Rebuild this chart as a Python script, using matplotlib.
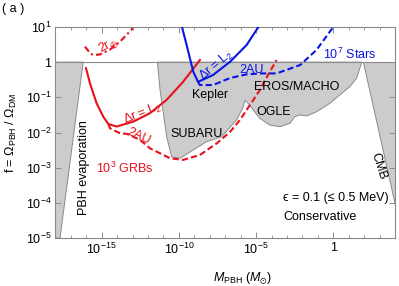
import numpy as np
import matplotlib
matplotlib.use("Agg")
import matplotlib.pyplot as plt

plt.rcParams['font.family'] = ['Liberation Sans', 'DejaVu Sans']
plt.rcParams['mathtext.fontset'] = 'custom'
plt.rcParams['mathtext.rm'] = 'Liberation Sans'
plt.rcParams['mathtext.it'] = 'Liberation Sans:italic'
plt.rcParams['mathtext.bf'] = 'Liberation Sans:bold'
plt.rcParams['mathtext.fallback'] = 'stixsans'

# ---- data (log10 M, log10 f) ----
grb_L2_logM = [-16.02, -15.76, -15.33, -14.90, -14.57, -14.03, -12.95, -11.87, -10.79, -9.72, -8.64]
grb_L2_logf = [-0.17, -0.60, -1.17, -1.55, -1.76, -1.83, -1.69, -1.45, -1.07, -0.555, 0.06]

grb_2AU_logM = [-14.57, -14.46, -13.82, -13.36, -12.52, -11.87, -10.58, -9.74, -8.64, -7.55, -6.68, -6.04, -5.40, -4.75, -4.23, -3.67]
grb_2AU_logf = [-1.76, -1.88, -2.02, -2.04, -2.21, -2.45, -2.73, -2.78, -2.64, -2.31, -1.98, -1.64, -1.22, -0.79, -0.365, 0.06]

grb_2re_logM = [-16.08, -15.76, -15.55, -15.11, -14.46, -13.82, -12.97]
grb_2re_logf = [0.44, 0.26, 0.20, 0.22, 0.36, 0.58, 0.97]

kep_L2_logM = [-9.80, -9.50, -9.07, -8.76, -7.79, -6.68, -5.61, -4.85]
kep_L2_logf = [1.0, 0.49, -0.27, -0.56, -0.365, 0.013, 0.49, 1.0]

kep_2AU_logM = [-8.76, -8.64, -7.79, -6.68, -5.61, -4.55, -3.67, -2.14, -1.08, 0.0]
kep_2AU_logf = [-0.56, -0.65, -0.65, -0.45, -0.345, -0.32, -0.32, -0.08, 0.35, 1.0]

evap_logM = [-18.0, -16.20, -17.70, -18.0]
evap_logf = [0.0, 0.0, -5.0, -5.0]

micro_logM = [-11.39, -11.22, -10.79, -10.47, -9.92, -8.20, -7.23, -6.26, -5.83, -5.72, -5.51,
              -5.18, -4.75, -4.11, -3.46, -2.81, -2.49, -2.16, -1.72, -1.08, -0.22, 0.43, 1.07,
              1.51, 1.72, 1.84]
micro_logf = [0.0, -0.79, -2.12, -2.69, -2.73, -2.26, -2.12, -1.64, -1.27, -1.08, -1.17,
              -1.36, -1.60, -1.79, -1.835, -1.74, -1.55, -1.50, -1.53, -1.41, -1.17, -0.93, -0.70,
              -0.46, -0.17, 0.0]

cmb_logM = [1.93, 4.0, 4.0]
cmb_logf = [0.0, 0.0, -4.05]

xtick_pos = [-15, -10, -5, 0]
xtick_labels = [r'$10^{-15}$', r'$10^{-10}$', r'$10^{-5}$', '1']
ytick_pos = [-5, -4, -3, -2, -1, 0, 1]
ytick_labels = [r'$10^{-5}$', r'$10^{-4}$', r'$10^{-3}$', r'$10^{-2}$', r'$10^{-1}$', '1', r'$10^{1}$']

def p(a):
    return 10.0 ** np.asarray(a, dtype=float)

RED = '#e8101a'
BLUE = '#0a14e6'
GRAY_F = '#cccccc'
GRAY_E = '#8a8a8a'

fig = plt.figure(figsize=(3.99, 2.86), dpi=100)
ax = fig.add_axes([55.4/399, 1-238/286, (395-55.4)/399, (238-27)/286])
ax.set_xscale('log')
ax.set_yscale('log')
ax.set_xlim(1e-18, 1e4)
ax.set_ylim(1e-5, 1e1)

for mx, fy in [(evap_logM, evap_logf), (micro_logM, micro_logf), (cmb_logM, cmb_logf)]:
    ax.fill(p(mx), p(fy), facecolor=GRAY_F, edgecolor=GRAY_E, lw=0.7, zorder=1)
ax.axhline(1.0, color=GRAY_E, lw=0.8, zorder=1.5)

lw = 1.5
ax.plot(p(grb_L2_logM), p(grb_L2_logf), color=RED, lw=lw, zorder=3)
ax.plot(p(grb_2AU_logM), p(grb_2AU_logf), color=RED, lw=lw, dashes=(3, 1.5), zorder=3)
ax.plot(p(grb_2re_logM), p(grb_2re_logf), color=RED, lw=lw, dashes=(3, 1.5, 1, 1.5), zorder=3)
ax.plot(p(kep_L2_logM), p(kep_L2_logf), color=BLUE, lw=lw, zorder=3)
ax.plot(p(kep_2AU_logM), p(kep_2AU_logf), color=BLUE, lw=lw, dashes=(3, 1.5), zorder=3)

fs = 9
def t(lm, lf, s, **kw):
    kw.setdefault('ha', 'center')
    kw.setdefault('va', 'center')
    kw.setdefault('fontsize', fs)
    ax.text(10**lm, 10**lf, s, rotation_mode='anchor', zorder=4, **kw)

t(-7.99, -0.93, 'Kepler')
t(-2.34, -0.70, 'EROS/MACHO')
t(-3.89, -1.41, 'OGLE')
t(-8.88, -2.05, 'SUBARU')
t(-13.49, -3.02, r'10$^3$ GRBs', color=RED)
t(1.08, 0.22, r'10$^7$ Stars', color=BLUE)
t(-5.29, -0.22, '2AU', color=BLUE)
t(-7.55, -0.08, r'$\Delta$r = L$_2$', color=BLUE, rotation=40)
t(-12.31, -1.45, r'$\Delta$r = L$_2$', color=RED, rotation=22)
t(-12.59, -2.10, '2AU', color=RED, rotation=-25)
t(-14.57, 0.49, r'2r$_{\oplus}$', color=RED, rotation=28)
t(-16.12, -3.01, 'PBH evaporation', rotation=90)
t(2.96, -2.97, 'CMB', rotation=-72)
t(-3.24, -3.86, '\u03f5 = 0.1 (\u2264 0.5 MeV)', ha='left')
t(-3.24, -4.40, 'Conservative', ha='left')

ax.set_xticks(p(xtick_pos))
ax.set_xticklabels(xtick_labels)
ax.set_xticks(p(np.arange(-18, 5)), minor=True)
ax.set_xticklabels([], minor=True)
ax.set_yticks(p(ytick_pos))
ax.set_yticklabels(ytick_labels)
ax.yaxis.set_minor_locator(matplotlib.ticker.NullLocator())

ax.tick_params(which='both', direction='in', top=True, right=True, color='#8a8a8a', labelsize=fs)
ax.tick_params(which='major', length=4, width=0.7, pad=3)
ax.tick_params(which='minor', length=2.2, width=0.6)
for s in ax.spines.values():
    s.set_color('#8a8a8a')
    s.set_linewidth(0.8)

ax.set_xlabel(r'$M_{\rm PBH}$ ($M_{\odot}$)', fontsize=fs)
ax.xaxis.set_label_coords((242.5-55.4)/339.6, -0.152)
ax.set_ylabel(r'f = $\Omega_{\rm PBH}$ / $\Omega_{\rm DM}$', fontsize=fs)
ax.yaxis.set_label_coords(-0.108, 0.5)

fig.text(2/399, 1-9/286, '( a )', fontsize=fs, va='center', ha='left')

fig.savefig('out.png', dpi=100)
